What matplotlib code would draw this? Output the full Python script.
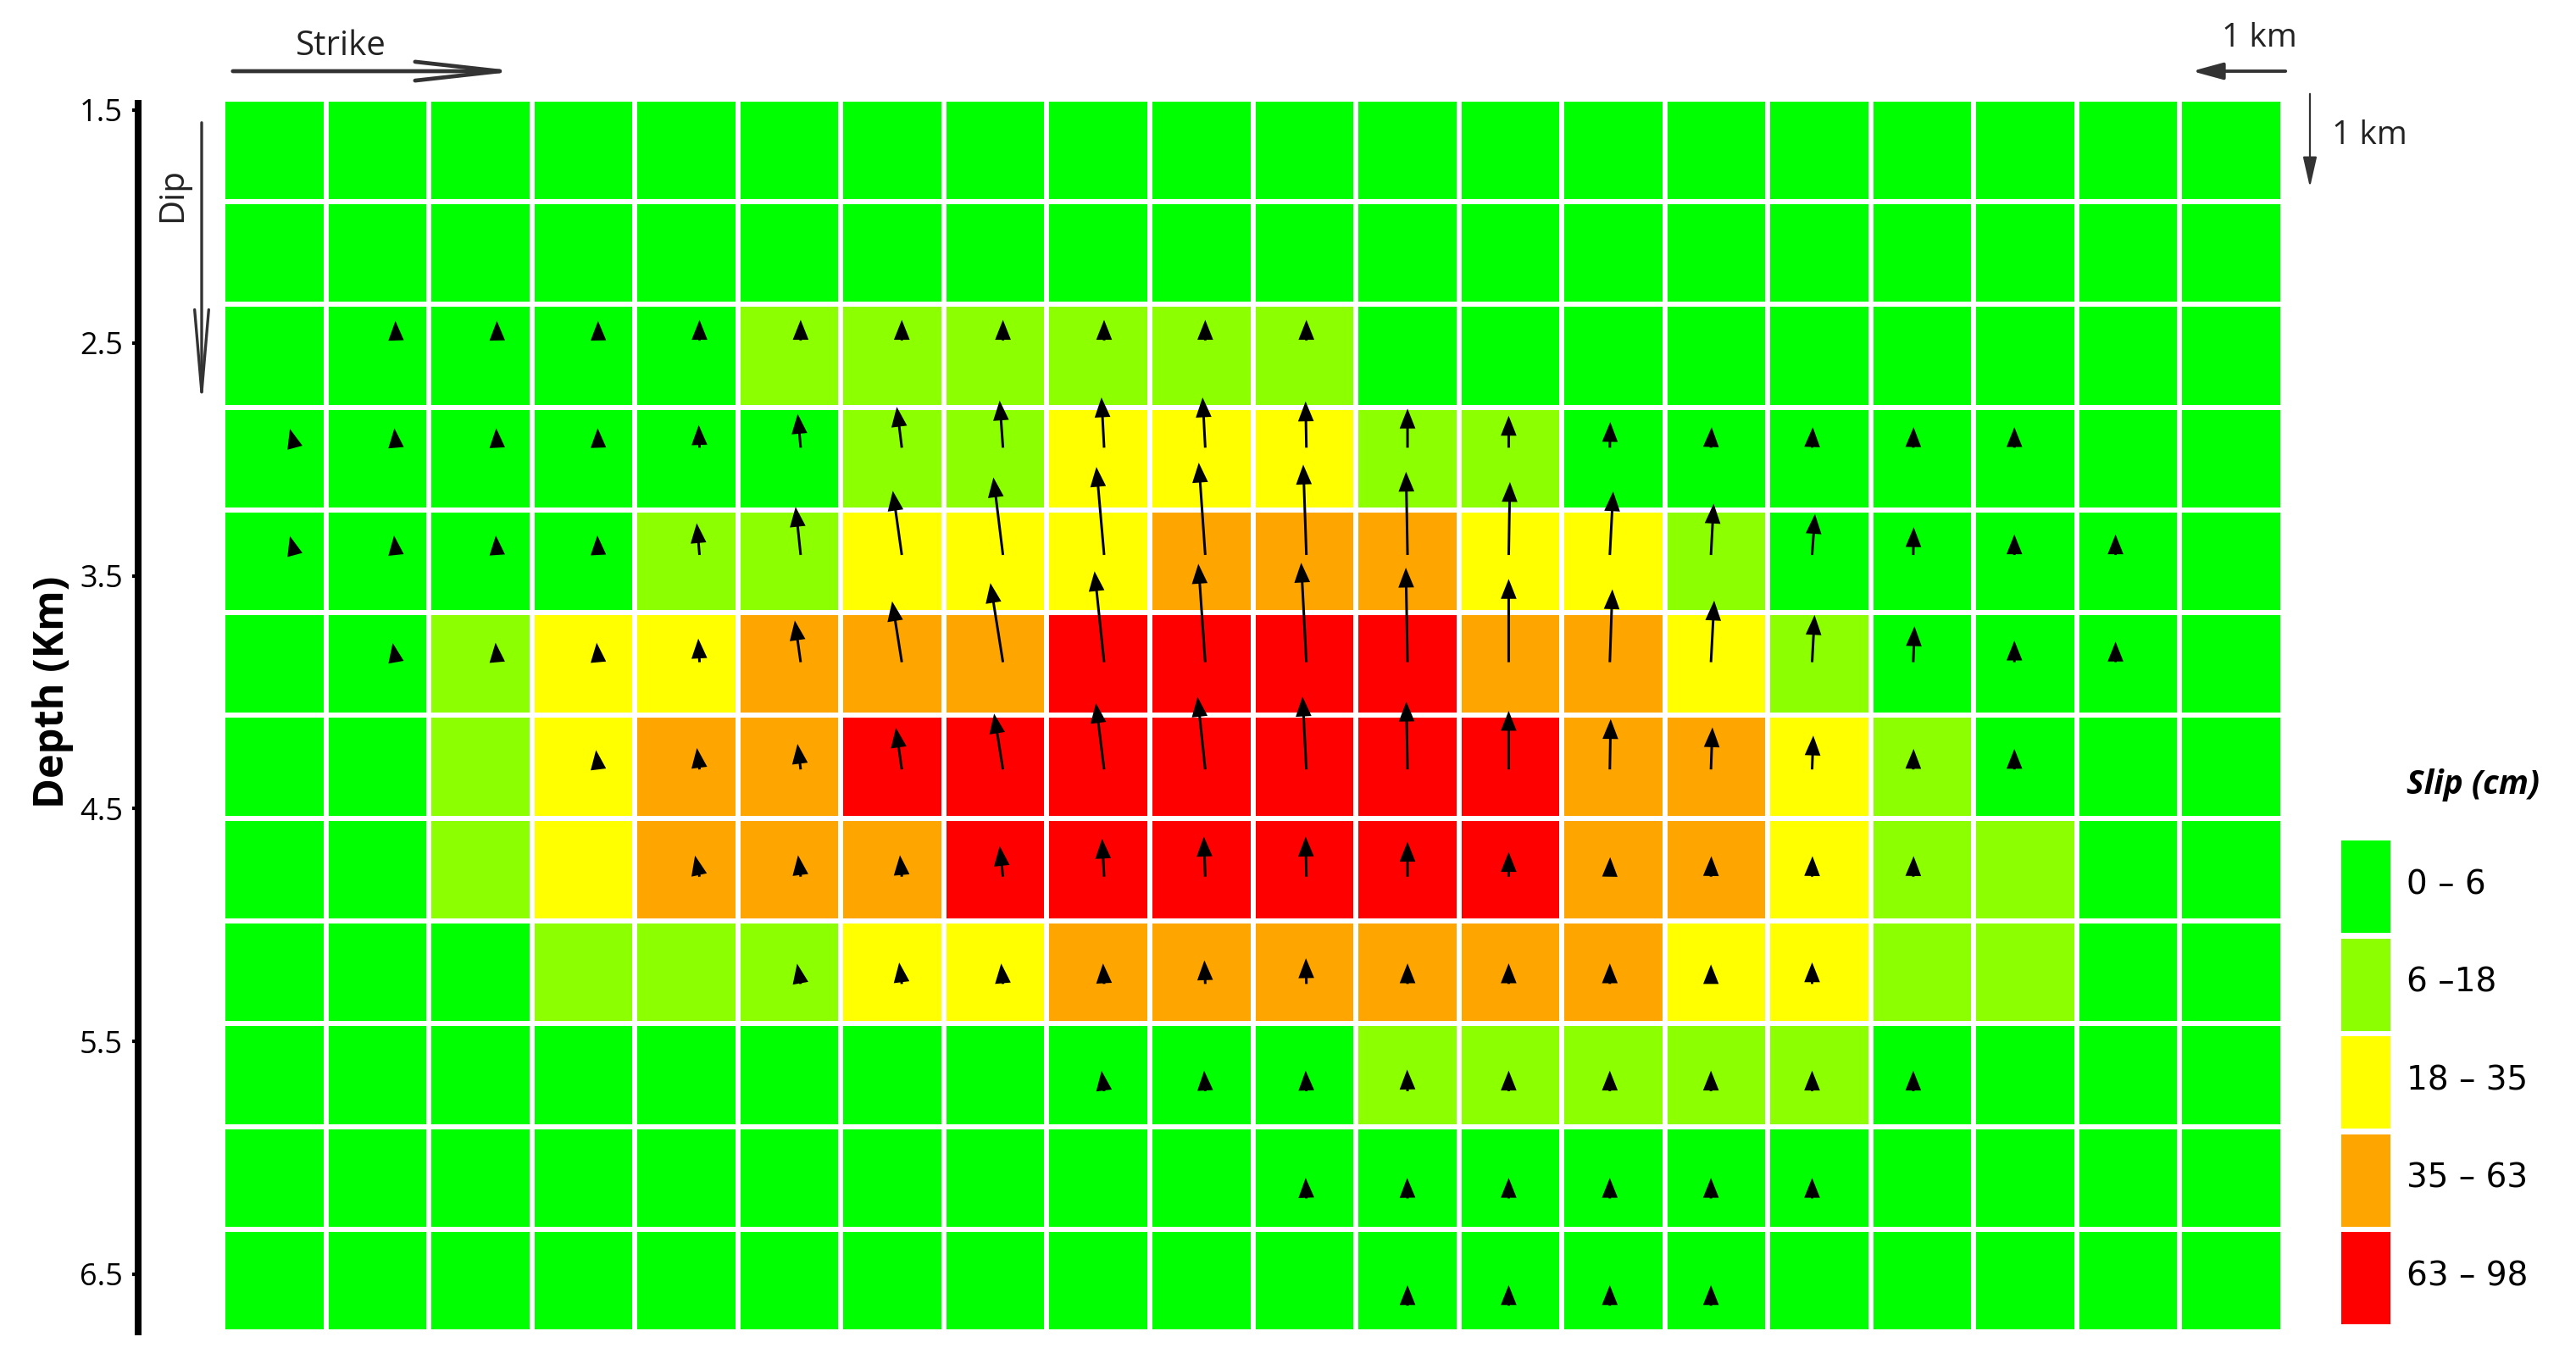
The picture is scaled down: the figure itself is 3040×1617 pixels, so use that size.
import matplotlib
matplotlib.use("Agg")
import matplotlib.pyplot as plt
import numpy as np
from matplotlib.colors import ListedColormap, BoundaryNorm
from matplotlib.patches import FancyArrowPatch, Rectangle

plt.rcParams['font.family'] = ['Open Sans', 'DejaVu Sans']

# slip class of each subfault, row 0 = shallowest, column 0 = start of strike
# 0: 0-6, 1: 6-18, 2: 18-35, 3: 35-63, 4: 63-98 cm
slip_class = np.array([
    [0, 0, 0, 0, 0, 0, 0, 0, 0, 0, 0, 0, 0, 0, 0, 0, 0, 0, 0, 0],
    [0, 0, 0, 0, 0, 0, 0, 0, 0, 0, 0, 0, 0, 0, 0, 0, 0, 0, 0, 0],
    [0, 0, 0, 0, 0, 1, 1, 1, 1, 1, 1, 0, 0, 0, 0, 0, 0, 0, 0, 0],
    [0, 0, 0, 0, 0, 0, 1, 1, 2, 2, 2, 1, 1, 0, 0, 0, 0, 0, 0, 0],
    [0, 0, 0, 0, 1, 1, 2, 2, 2, 3, 3, 3, 2, 2, 1, 0, 0, 0, 0, 0],
    [0, 0, 1, 2, 2, 3, 3, 3, 4, 4, 4, 4, 3, 3, 2, 1, 0, 0, 0, 0],
    [0, 0, 1, 2, 3, 3, 4, 4, 4, 4, 4, 4, 4, 3, 3, 2, 1, 0, 0, 0],
    [0, 0, 1, 2, 3, 3, 3, 4, 4, 4, 4, 4, 4, 3, 3, 2, 1, 1, 0, 0],
    [0, 0, 0, 1, 1, 1, 2, 2, 3, 3, 3, 3, 3, 3, 2, 2, 1, 1, 0, 0],
    [0, 0, 0, 0, 0, 0, 0, 0, 0, 0, 0, 1, 1, 1, 1, 1, 0, 0, 0, 0],
    [0, 0, 0, 0, 0, 0, 0, 0, 0, 0, 0, 0, 0, 0, 0, 0, 0, 0, 0, 0],
    [0, 0, 0, 0, 0, 0, 0, 0, 0, 0, 0, 0, 0, 0, 0, 0, 0, 0, 0, 0],
])

# slip vector length (hundredths of a subfault side), 0 = no vector drawn
vec_len = np.array([
    [0, 0, 0, 0, 0, 0, 0, 0, 0, 0, 0, 0, 0, 0, 0, 0, 0, 0, 0, 0],
    [0, 0, 0, 0, 0, 0, 0, 0, 0, 0, 0, 0, 0, 0, 0, 0, 0, 0, 0, 0],
    [0, 19, 19, 19, 20, 20, 20, 20, 20, 20, 20, 0, 0, 0, 0, 0, 0, 0, 0, 0],
    [19, 19, 19, 19, 22, 33, 40, 46, 49, 49, 45, 38, 31, 25, 20, 20, 20, 20, 0, 0],
    [19, 19, 19, 19, 31, 47, 63, 76, 86, 90, 88, 81, 71, 62, 50, 40, 27, 20, 20, 0],
    [0, 19, 19, 19, 23, 41, 60, 78, 89, 96, 97, 92, 81, 71, 60, 46, 35, 21, 20, 0],
    [0, 0, 0, 19, 21, 25, 41, 55, 65, 71, 71, 66, 57, 49, 41, 33, 20, 20, 0, 0],
    [0, 0, 0, 0, 21, 21, 21, 30, 37, 39, 39, 34, 24, 19, 20, 20, 20, 0, 0, 0],
    [0, 0, 0, 0, 0, 20, 21, 20, 20, 23, 25, 20, 20, 20, 19, 21, 0, 0, 0, 0],
    [0, 0, 0, 0, 0, 0, 0, 0, 20, 20, 20, 21, 20, 20, 20, 20, 20, 0, 0, 0],
    [0, 0, 0, 0, 0, 0, 0, 0, 0, 0, 20, 20, 20, 20, 20, 20, 0, 0, 0, 0],
    [0, 0, 0, 0, 0, 0, 0, 0, 0, 0, 0, 20, 20, 20, 20, 0, 0, 0, 0, 0],
])

# rake of the slip vector in degrees (90 = straight up dip)
rake = np.array([
    [90] * 20,
    [90] * 20,
    [90, 92, 91, 91, 90, 90, 90, 90, 90, 90, 90, 90, 90, 90, 90, 90, 90, 90, 90, 90],
    [105, 95, 93, 92, 92, 95, 97, 94, 93, 93, 91, 90, 90, 89, 88, 88, 89, 90, 90, 90],
    [105, 96, 94, 93, 95, 96, 98, 97, 95, 94, 92, 91, 89, 87, 87, 86, 89, 90, 90, 90],
    [90, 100, 95, 95, 93, 98, 99, 99, 96, 94, 93, 91, 90, 88, 87, 87, 88, 90, 90, 90],
    [90, 90, 90, 97, 97, 97, 98, 99, 97, 96, 93, 91, 90, 89, 88, 88, 89, 90, 90, 90],
    [90, 90, 90, 90, 102, 97, 95, 96, 93, 92, 91, 90, 90, 89, 89, 89, 89, 90, 90, 90],
    [90, 90, 90, 90, 90, 100, 97, 95, 93, 92, 91, 90, 90, 90, 90, 90, 90, 90, 90, 90],
    [90, 90, 90, 90, 90, 90, 90, 90, 97, 93, 92, 91, 90, 90, 90, 90, 90, 90, 90, 90],
    [90, 90, 90, 90, 90, 90, 90, 90, 90, 90, 92, 91, 90, 90, 90, 90, 90, 90, 90, 90],
    [90] * 20,
])

depth_ticks = [1.5, 2.5, 3.5, 4.5, 5.5, 6.5]
class_labels = ["0 \u2013 6", "6 \u201318", "18 \u2013 35", "35 \u2013 63", "63 \u2013 98"]
class_colors = ["#00ff00", "#8cff00", "#ffff00", "#ffa500", "#ff0000"]

W, H = 3040, 1617
fig = plt.figure(figsize=(W / 100, H / 100), dpi=100)

def fx(px):
    return px / W

def fy(py):
    return 1 - py / H

# slip grid
ax = fig.add_axes([fx(263), fy(1572), fx(2694) - fx(263), fy(117) - fy(1572)])
cmap = ListedColormap(class_colors)
norm = BoundaryNorm(np.arange(-0.5, 5.5, 1), cmap.N)
nrow, ncol = slip_class.shape
ax.pcolormesh(np.arange(ncol + 1), np.arange(nrow + 1), slip_class, cmap=cmap, norm=norm,
              edgecolors="white", linewidth=4.3)
ax.set_xlim(0, ncol)
ax.set_ylim(nrow, 0)
ax.axis("off")

# slip vectors
rr, cc = np.nonzero(vec_len > 0)
L = vec_len[rr, cc] / 100.0
th = np.deg2rad(rake[rr, cc])
X = 0.70 + 0.982 * cc
Y = 7.047 + 1.044 * (rr - 6.5)
ax.quiver(X, Y, L * np.cos(th), -L * np.sin(th), angles="xy", scale_units="xy", scale=1,
          units="dots", width=3.0, headwidth=6.2, headlength=7.8, headaxislength=7.8,
          color="black", zorder=3)

# depth axis
axd = fig.add_axes([fx(163), fy(1572), 0.0001, fy(122) - fy(1572)])
axd.set_ylim(6.748, 1.471)
axd.set_xticks([])
axd.set_yticks(depth_ticks)
axd.set_yticklabels([f"{d:.1f}" for d in depth_ticks])
for s in ["top", "right", "bottom"]:
    axd.spines[s].set_visible(False)
axd.spines["left"].set_linewidth(5.8)
axd.patch.set_visible(False)
axd.tick_params(axis="y", length=5, width=3, pad=8, labelsize=26, colors="black")
fig.text(fx(63), fy(817), "Depth (Km)", rotation=90, ha="center", va="center",
         fontsize=35, fontweight="bold")

# strike / dip annotation
arrow_col = "#333333"
fig.text(fx(402), fy(55), "Strike", ha="center", va="center", fontsize=29, color="#222222")
fig.add_artist(FancyArrowPatch((fx(272), fy(84)), (fx(614), fy(84)), transform=fig.transFigure,
                               arrowstyle="->,head_length=72,head_width=8", mutation_scale=1,
                               lw=3.4, color=arrow_col))
fig.text(fx(204), fy(230), "Dip", rotation=90, ha="center", va="center", fontsize=29,
         color="#222222")
fig.add_artist(FancyArrowPatch((fx(238), fy(142)), (fx(238), fy(485)), transform=fig.transFigure,
                               arrowstyle="->,head_length=70,head_width=6", mutation_scale=1,
                               lw=2.4, color=arrow_col))

# 1 km scale arrows
fig.text(fx(2666), fy(45), "1 km", ha="center", va="center", fontsize=28, color="#222222")
fig.add_artist(FancyArrowPatch((fx(2700), fy(84)), (fx(2584), fy(84)), transform=fig.transFigure,
                               arrowstyle="-|>,head_length=22,head_width=6", mutation_scale=1,
                               lw=2.8, color=arrow_col))
fig.text(fx(2796), fy(160), "1 km", ha="center", va="center", fontsize=28, color="#222222")
fig.add_artist(FancyArrowPatch((fx(2726), fy(108)), (fx(2726), fy(224)), transform=fig.transFigure,
                               arrowstyle="-|>,head_length=22,head_width=5", mutation_scale=1,
                               lw=1.6, color=arrow_col))

# legend
fig.text(fx(2840), fy(926), "Slip (cm)", ha="left", va="center", fontsize=28,
         fontweight="bold", fontstyle="italic")
step = 115.5
for i, (lab, col) in enumerate(zip(class_labels, class_colors)):
    top = 992 + i * step
    fig.add_artist(Rectangle((fx(2763), fy(top + 109)), fx(2821) - fx(2763), fy(top) - fy(top + 109),
                             transform=fig.transFigure, facecolor=col, edgecolor="none"))
    fig.text(fx(2840), fy(top + 52), lab, ha="left", va="center", fontsize=28,
             family=["DejaVu Sans"])

fig.savefig("out.png", dpi=100)
